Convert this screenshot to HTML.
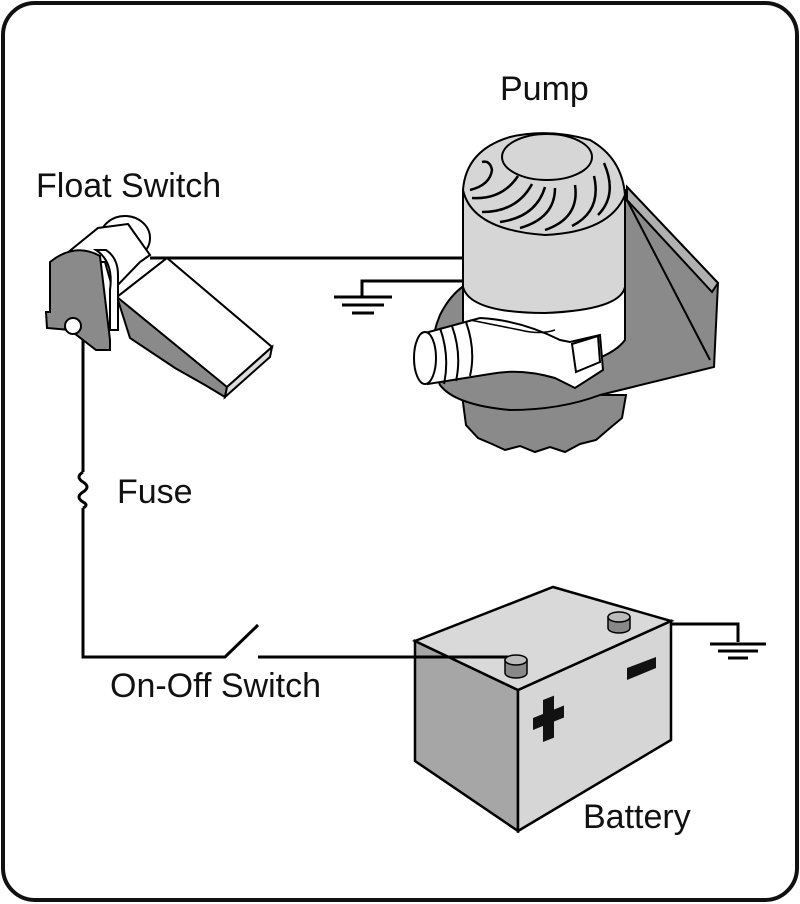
<!DOCTYPE html>
<html><head><style>
body{margin:0;background:#fff;}
svg{display:block}
text{font-family:"Liberation Sans",sans-serif;font-size:34px;fill:#111}
</style></head><body>
<svg width="800" height="904" viewBox="0 0 800 904" xmlns="http://www.w3.org/2000/svg">
<rect x="3" y="3" width="794" height="897" rx="32" fill="#fff" stroke="#111" stroke-width="4"/>
<g stroke="#000" stroke-width="3" fill="none">
<path d="M150 258 H470"/>
<path d="M362 297 V281 H470"/>
<path d="M83 330 V472 M83 508 V657 H225 L258 625"/>
<path d="M83 472 q-8 5 0 10 q8 5 0 10 q-8 5 0 10 q6 3 0 6"/>
<path d="M671 624 H738 V642"/>
</g>
<g stroke="#000" stroke-width="3">
<path d="M334 297 H392 M342 305 H384 M352 313 H374"/>
<path d="M710 644 H766 M718 651 H758 M728 658 H748"/>
</g>
<!-- pump -->
<g stroke="#000" stroke-width="2">
<path d="M462 395 L466 425 L478 438 L492 444 L505 450 L520 446 L535 452 L550 447 L565 452 L580 444 L596 440 L610 428 L622 418 L626 395 Z" fill="#8a8a8a"/>
<path d="M627 187 L718 283 L714 367 L600 395 Q560 410 510 410 Q455 405 440 385 Q425 350 440 315 Q450 295 465 285 L627 200 Z" fill="#8a8a8a"/>
<polygon points="627,187 718,283 712,292 627,200" fill="#b0b0b0"/>
<path d="M627 200 L710 360" fill="none"/>
<path d="M463 287 L463 345 Q500 372 560 368 Q610 360 625 340 L625 287 Z" fill="#fff"/>
<path d="M463 190 L463 287 Q470 313 545 313 Q620 310 625 287 L625 190 Z" fill="#d6d6d6"/>
<path d="M463 190 Q466 150 510 137 Q548 128 590 140 Q622 158 625 195 Q610 232 545 235 Q472 230 463 190 Z" fill="#d6d6d6"/>
<ellipse cx="547" cy="157" rx="45" ry="23" fill="#d6d6d6"/>
<g fill="none" stroke-width="2.5">
<path d="M470 190 q20 -5 22 -20 q-2 -10 -10 -8 M472 198 q30 2 46 -22 M482 212 q35 0 50 -28 M500 222 q36 -5 45 -35 M520 228 q35 -10 35 -40 M545 230 q35 -12 30 -45 M572 226 q30 -15 22 -50 M598 215 q20 -20 6 -52"/>
</g>
<path d="M425 333 L480 318 Q520 320 560 340 L570 342 L600 335 L603 370 L575 388 L555 378 Q520 368 490 374 L428 384 Z" fill="#fff"/>
<path d="M470 320 L520 330 Q540 335 555 330" fill="none" stroke-width="1.5"/>
<ellipse cx="425" cy="358" rx="11" ry="26" fill="#fff"/>
<path d="M440 328 q10 28 4 56 M452 326 q10 28 4 55 M466 322 q10 28 4 54" fill="none"/>
<polygon points="572,344 598,336 600,362 576,372" fill="#fff"/>
</g>
<!-- float switch -->
<g stroke="#000" stroke-width="2">
<ellipse cx="125" cy="238" rx="25" ry="22" fill="#fff"/>
<path d="M56 262 L98 228 L128 224 L150 255 L140 262 L113 290 L105 262 Z" fill="#fff"/>
<polygon points="117,297 167,258 272,347 227,387 225,397 205,385 175,368 130,338" fill="#8a8a8a"/>
<polygon points="117,297 167,258 272,347 227,387" fill="#fff"/>
<polygon points="227,387 272,347 270,357 225,397" fill="#ddd"/>
<path d="M50 262 Q75 242 100 256 L110 340 L110 350 L96 350 L70 330 L47 328 L46 312 L50 312 Z" fill="#8a8a8a"/>
<path d="M96 250 Q114 262 110 290 L110 330 L118 330 L118 275 Q118 258 106 250 Z" fill="#fff"/>
<circle cx="73" cy="326" r="8" fill="#fff"/>
</g>
<!-- battery -->
<g stroke="#000" stroke-width="2.5">
<polygon points="415,641 518,690 518,831 415,761" fill="#a6a6a6"/>
<polygon points="518,690 671,621 671,740 518,831" fill="#d6d6d6"/>
<polygon points="415,641 553,587 671,621 518,690" fill="#d9d9d9"/>
<path d="M258 657 H508" fill="none" stroke-width="3"/>
<g stroke-width="1.5" fill="#888">
<path d="M505 660 V673 A11 5 0 0 0 527 673 V660 Z"/><ellipse cx="516" cy="660" rx="11" ry="5" fill="#bbb"/>
<path d="M608 617 V628 A11 5 0 0 0 630 628 V617 Z"/><ellipse cx="619" cy="617" rx="11" ry="5" fill="#bbb"/>
</g>
</g>
<g fill="#111" transform="translate(548 718) skewY(-22)">
<rect x="-5" y="-20" width="11" height="42"/>
<rect x="-15" y="-6" width="31" height="12"/>
</g>
<polygon points="627,668 656,657 656,668 627,680" fill="#111"/>
<text x="500" y="100">Pump</text>
<text x="36" y="197">Float Switch</text>
<text x="117" y="503">Fuse</text>
<text x="110" y="697">On-Off Switch</text>
<text x="583" y="828">Battery</text>
</svg>
</body></html>
